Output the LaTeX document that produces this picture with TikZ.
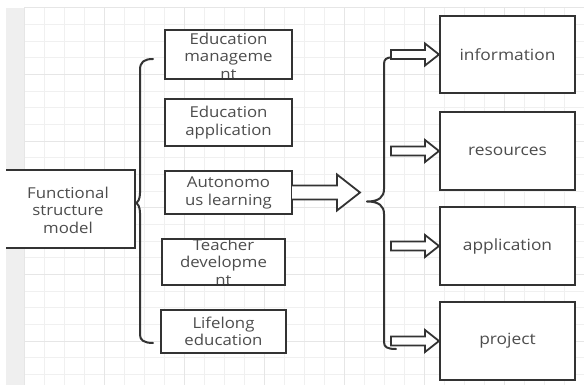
\documentclass[tikz,border=0pt]{standalone}
\usepackage{fontspec}
\setmainfont[FakeStretch=1.12]{Open Sans}
\definecolor{ln}{HTML}{333333}
\definecolor{tx}{HTML}{4D4D4D}
\definecolor{gmin}{HTML}{F0F0F0}
\definecolor{gmaj}{HTML}{E6E6E6}
\definecolor{stripc}{HTML}{EFEFEF}
\tikzset{
  boxfill/.style={fill=white, draw=none, inner sep=0pt, outer sep=0pt},
  border/.style={draw=ln, line width=2pt},
  txt/.style={text=tx, align=center, inner sep=0pt, font=\fontsize{15}{17.5}\selectfont},
  rtxt/.style={text=tx, align=center, inner sep=0pt, font=\fontsize{15.5}{18}\selectfont},
  bracel/.style={draw=ln, line width=2pt, line cap=round, line join=round},
  hollow/.style={draw=ln, fill=white, line width=1.8pt, line join=miter},
}
\begin{document}
\begin{tikzpicture}[x=1pt,y=-1pt]
\useasboundingbox (0,0) rectangle (584,385);
% background grid
\fill[stripc] (6,8) rectangle (24,385);
\foreach \i in {0,...,27} {
  \draw[gmin, line width=1pt] ({24+20*\i},8) -- ({24+20*\i},385);
}
\foreach \j in {0,...,22} {
  \draw[gmin, line width=1pt] (24,{8+16.65*\j}) -- (584,{8+16.65*\j});
}
\foreach \i in {0,...,6} {
  \draw[gmaj, line width=1pt] ({24+80*\i},8) -- ({24+80*\i},385);
}
\foreach \j in {0,...,5} {
  \draw[gmaj, line width=1pt] (24,{8+66.6*\j}) -- (584,{8+66.6*\j});
}
% boxes (fill)
\node[boxfill, minimum width=129pt, minimum height=78pt] (func) at (70.5,209) {};
\node[boxfill, minimum width=127pt, minimum height=49pt] (em) at (228.5,54.5) {};
\node[boxfill, minimum width=127pt, minimum height=47pt] (ea) at (228.5,122.5) {};
\node[boxfill, minimum width=127pt, minimum height=43pt] (al) at (228.5,192.5) {};
\node[boxfill, minimum width=123pt, minimum height=46pt] (td) at (223.5,262) {};
\node[boxfill, minimum width=125pt, minimum height=43pt] (le) at (223.5,331.5) {};
\node[boxfill, minimum width=135pt, minimum height=77pt] (info) at (507.5,54.5) {};
\node[boxfill, minimum width=135pt, minimum height=78pt] (res) at (507.5,151) {};
\node[boxfill, minimum width=135pt, minimum height=78pt] (app) at (507.5,246) {};
\node[boxfill, minimum width=135pt, minimum height=78pt] (proj) at (507.5,341) {};
% texts
\node[txt] (funct) at (68,210) {Functional\\structure\\model};
\node[txt] (emt) at (228.5,56) {Education\\manageme\\nt};
\node[txt] (eat) at (228.5,122.5) {Education\\application};
\node[txt] (alt) at (228.5,193) {Autonomo\\us learning};
\node[txt] (tdt) at (223.5,262) {Teacher\\developme\\nt};
\node[txt] (let) at (223.5,331.5) {Lifelong\\education};
\node[rtxt] (infot) at (507.5,54.5) {information};
\node[rtxt] (rest) at (507.5,151) {resources};
\node[rtxt] (appt) at (507.5,246) {application};
\node[rtxt] (projt) at (507.5,341) {project};
% borders
\draw[border] (func.north west) -- (func.north east) -- (func.south east) -- (func.south west);
\foreach \n in {em,ea,al,td,le,info,res,app,proj} {
  \draw[border] (\n.north west) rectangle (\n.south east);
}
% left brace
\coordinate (lbt) at (153,59);
\coordinate (lbm) at (135,203);
\coordinate (lbb) at (153,343);
\draw[bracel] (lbt) .. controls (144,59) and (140,62) .. (140,70) -- (140,193)
  .. controls (140,199) and (138,203) .. (lbm)
  .. controls (138,203) and (140,207) .. (140,213) -- (140,335)
  .. controls (140,340) and (144,343) .. (lbb);
% right brace
\coordinate (rbt) at (391,57.5);
\coordinate (rbm) at (367,201.5);
\coordinate (rbb) at (396,349);
\draw[bracel] (rbt) .. controls (387,57.5) and (384,59) .. (384,64) -- (384,189)
  .. controls (384,197) and (379,201.5) .. (rbm)
  .. controls (379,201.5) and (384,206) .. (384,214) -- (384,342)
  .. controls (384,347) and (387,349) .. (rbb);
% big hollow arrow
\draw[hollow] ([yshift=7pt]al.east) -- ++(45,0) -- ++(0,-11) -- ++(23,18) -- ++(-23,18) -- ++(0,-11) -- ([yshift=-7pt]al.east);
% small hollow arrows
\foreach \n in {info,res,app,proj} {
  \draw[hollow] ([xshift=-49pt,yshift=4.5pt]\n.west) -- ++(34,0) -- ++(0,-6.5) -- ++(14,11) -- ++(-14,11) -- ++(0,-6.5) -- ++(-34,0) -- cycle;
}
\end{tikzpicture}
\end{document}
